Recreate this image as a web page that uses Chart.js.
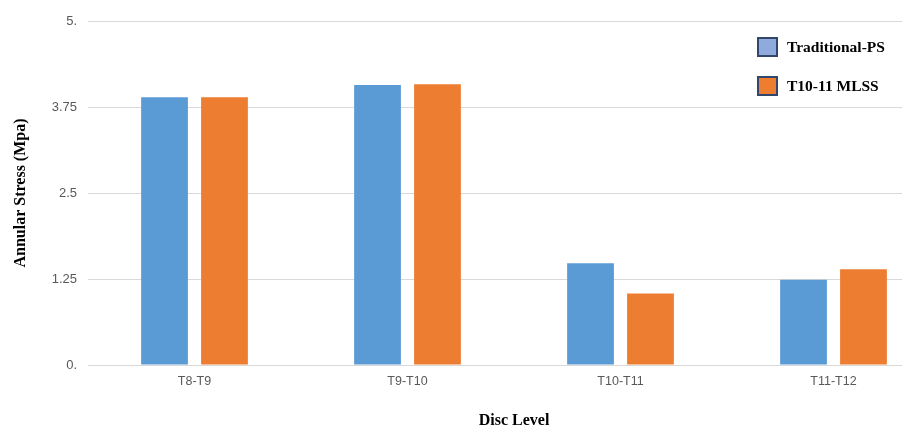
<!DOCTYPE html>
<html>
<head>
<meta charset="utf-8">
<script src="https://cdn.jsdelivr.net/npm/chart.js@4"></script>
<style>
  html, body { margin: 0; padding: 0; background: #fff; overflow: hidden; }
  #wrap { position: relative; width: 945px; height: 429px; }
  #myChart { position: absolute; left: 0; top: 0; }
  .leyenda { position: absolute; left: 757px; top: 0; width: 150px; height: 110px; font: bold 15.5px "Liberation Serif", "Times New Roman", serif; color: #000; }
  .leyenda .item { position: absolute; left: 0; white-space: nowrap; height: 20px; line-height: 20px; }
  .leyenda .caja { position: absolute; left: 0; top: 0; width: 17px; height: 16px; border: 2px solid #34476b; }
  .leyenda .texto { position: absolute; left: 30px; top: 0; }
</style>
</head>
<body>
<div id="wrap">
  <canvas id="myChart" width="945" height="429"></canvas>
  <div class="leyenda">
    <div class="item" style="top:37px"><span class="caja" style="background:#8faadc"></span><span class="texto" id="ley1"></span></div>
    <div class="item" style="top:76px"><span class="caja" style="background:#ed7d31"></span><span class="texto" id="ley2"></span></div>
  </div>
</div>
<script>
const nivelesDisco = ["T8-T9", "T9-T10", "T10-T11", "T11-T12"];
const traditionalPS = [3.89, 4.07, 1.48, 1.24];
const mlssT1011 = [3.89, 4.08, 1.04, 1.39];
const seriesNombres = ["Traditional-PS", "T10-11 MLSS"];
const ticksY = [0, 1.25, 2.5, 3.75, 5];

document.getElementById("ley1").textContent = seriesNombres[0];
document.getElementById("ley2").textContent = seriesNombres[1];

const data = {
  labels: nivelesDisco,
  datasets: [
    {
      label: seriesNombres[0],
      data: traditionalPS,
      backgroundColor: "#5b9bd5",
      categoryPercentage: 0.563,
      barPercentage: 0.78,
    },
    {
      label: seriesNombres[1],
      data: mlssT1011,
      backgroundColor: "#ed7d31",
      categoryPercentage: 0.563,
      barPercentage: 0.78,
    },
  ],
};

const fuenteTicks = "'Liberation Sans Narrow', 'Liberation Sans', Arial, sans-serif";
const fuenteTitulo = "'Liberation Serif', 'Times New Roman', serif";

const config = {
  type: "bar",
  data: data,
  options: {
    responsive: false,
    animation: false,
    devicePixelRatio: 1,
    layout: { padding: { top: 21, right: 5, left: 0, bottom: 0 } },
    plugins: {
      legend: { display: false },
      tooltip: { enabled: false },
    },
    scales: {
      x: {
        grid: { display: false, drawTicks: false },
        border: { color: "#d9d9d9", width: 1 },
        ticks: {
          padding: 9,
          color: "#595959",
          font: { family: fuenteTicks, size: 12.5 },
        },
        title: {
          display: true,
          text: "Disc Level",
          color: "#000",
          font: { family: fuenteTitulo, size: 16, weight: "bold", lineHeight: 1 },
          padding: { top: 0, bottom: 0 },
        },
        afterFit: (scale) => {
          scale.height = 64;
        },
      },
      y: {
        min: 0,
        max: 5,
        afterBuildTicks: (scale) => {
          scale.ticks = ticksY.map((v) => ({ value: v }));
        },
        grid: { color: "#d9d9d9", drawTicks: false },
        border: { display: false },
        ticks: {
          padding: 11,
          color: "#595959",
          font: { family: fuenteTicks, size: 13 },
          callback: (v) => (Number.isInteger(v) ? v + "." : String(v)),
        },
        title: {
          display: true,
          text: "Annular Stress (Mpa)",
          color: "#000",
          font: { family: fuenteTitulo, size: 16, weight: "bold" },
          padding: { top: 11, bottom: 0 },
        },
        afterFit: (scale) => {
          scale.width = 88;
        },
      },
    },
  },
};

const myChartElement = document.getElementById("myChart");
var myChart = new Chart(myChartElement, config);
</script>
</body>
</html>
